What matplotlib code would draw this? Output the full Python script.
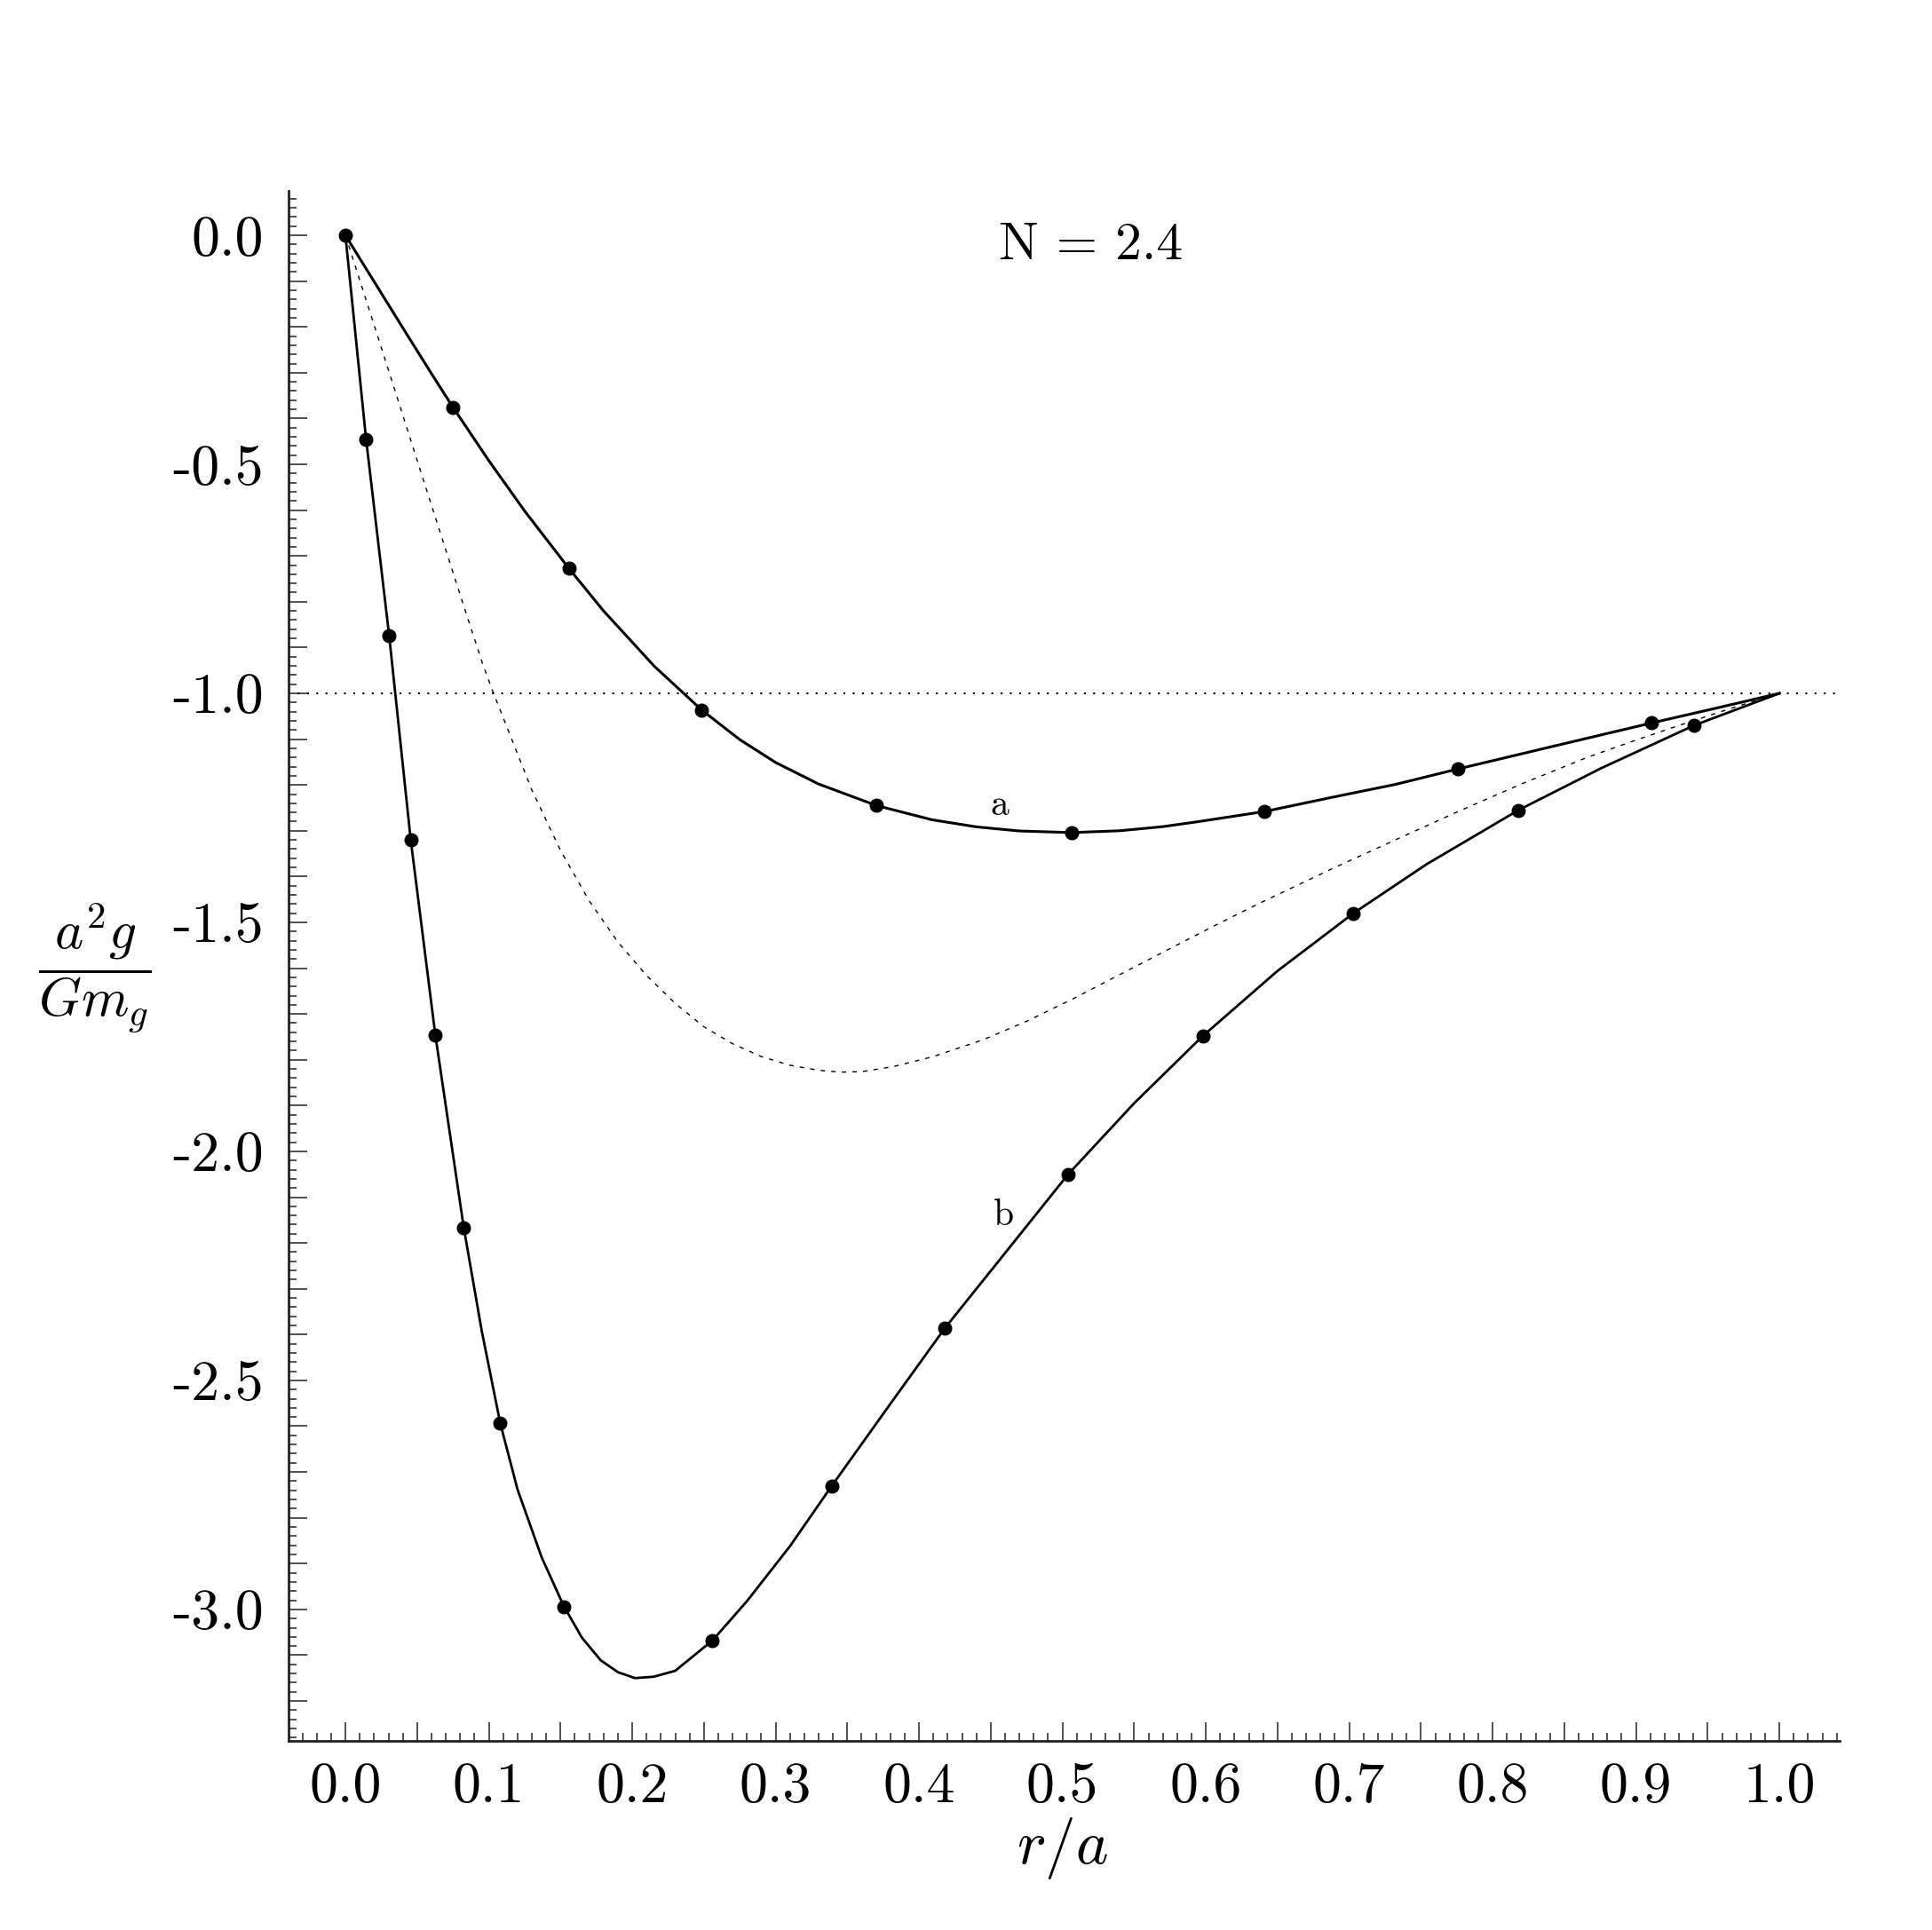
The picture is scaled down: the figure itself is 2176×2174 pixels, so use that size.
import matplotlib
matplotlib.use("Agg")
import matplotlib.pyplot as plt
from matplotlib.ticker import MultipleLocator, FuncFormatter

# values
# curve a (solid, upper)
a_x = [0, 0.02, 0.04, 0.06, 0.0749, 0.10, 0.125, 0.1558, 0.18, 0.2153, 0.2483,
       0.275, 0.30, 0.33, 0.3704, 0.409, 0.44, 0.47, 0.5063, 0.54, 0.57, 0.595,
       0.641, 0.688, 0.732, 0.776, 0.843, 0.911, 0.955, 1.0]
a_y = [0, -0.101, -0.202, -0.302, -0.375, -0.492, -0.602, -0.727, -0.820, -0.9405,
       -1.036, -1.101, -1.151, -1.198, -1.245, -1.276, -1.2915, -1.3005, -1.304,
       -1.300, -1.291, -1.280, -1.258, -1.227, -1.199, -1.165, -1.115, -1.0646,
       -1.033, -1.0]
a_mark_x = [0, 0.0749, 0.1558, 0.2483, 0.3704, 0.5063, 0.641, 0.776, 0.911]
a_mark_y = [0, -0.375, -0.727, -1.036, -1.245, -1.304, -1.258, -1.165, -1.0646]

# curve b (solid, lower)
b_x = [0, 0.0144, 0.0305, 0.0455, 0.0627, 0.0825, 0.095, 0.108, 0.12, 0.1368,
       0.1523, 0.165, 0.178, 0.19, 0.202, 0.215, 0.23, 0.2559, 0.28, 0.31, 0.339,
       0.378, 0.418, 0.46, 0.504, 0.55, 0.5979, 0.65, 0.703, 0.754, 0.818, 0.876,
       0.9407, 1.0]
b_y = [0, -0.445, -0.874, -1.319, -1.746, -2.166, -2.391, -2.594, -2.738, -2.886,
       -2.993, -3.062, -3.111, -3.137, -3.150, -3.147, -3.134, -3.068, -2.982,
       -2.862, -2.731, -2.560, -2.386, -2.222, -2.050, -1.895, -1.748, -1.606,
       -1.480, -1.373, -1.255, -1.163, -1.0697, -1.0]
b_mark_x = [0.0144, 0.0305, 0.0455, 0.0627, 0.0825, 0.108, 0.1523, 0.2559, 0.339,
            0.418, 0.504, 0.5979, 0.703, 0.818, 0.9407]
b_mark_y = [-0.445, -0.874, -1.319, -1.746, -2.166, -2.594, -2.995, -3.068, -2.731,
            -2.386, -2.050, -1.748, -1.480, -1.255, -1.0697]

# dashed curve
d_x = [0, 0.0254, 0.0563, 0.08, 0.0955, 0.1028, 0.13, 0.15, 0.17, 0.19, 0.21, 0.23,
       0.25, 0.27, 0.29, 0.31, 0.33, 0.345, 0.36, 0.382, 0.41, 0.445, 0.475, 0.508,
       0.54, 0.5715, 0.605, 0.635, 0.688, 0.735, 0.776, 0.82, 0.865, 0.90, 0.931,
       0.965, 1.0]
d_y = [0, -0.249, -0.553, -0.785, -0.934, -0.996, -1.211, -1.343, -1.453, -1.543,
       -1.616, -1.677, -1.728, -1.765, -1.793, -1.812, -1.823, -1.827, -1.826,
       -1.815, -1.793, -1.756, -1.716, -1.666, -1.614, -1.563, -1.509, -1.462,
       -1.383, -1.316, -1.258, -1.198, -1.141, -1.102, -1.069, -1.034, -1.0]

plt.rcParams['font.family'] = ['cmr10', 'DejaVu Serif']
plt.rcParams['mathtext.fontset'] = 'cm'
plt.rcParams['axes.unicode_minus'] = False

fig = plt.figure(figsize=(21.76, 21.74), dpi=100)
ax = fig.add_axes([0.1494, 0.0980, 0.9522 - 0.1494, 0.9011 - 0.0980])

ax.axhline(-1.0, color='black', lw=1.5, ls=(0, (1, 4)))
ax.plot(d_x, d_y, color='black', lw=1.0, ls=(0, (3.6, 5)))
ax.plot(a_x, a_y, color='black', lw=2.2, solid_joinstyle='round')
ax.plot(b_x, b_y, color='black', lw=2.0, solid_joinstyle='round')
ax.plot(a_mark_x, a_mark_y, 'o', color='black', ms=10.5)
ax.plot(b_mark_x, b_mark_y, 'o', color='black', ms=10.5)

ax.text(0.456, -1.266, 'a', fontsize=30, ha='center', va='baseline')
ax.text(0.459, -2.161, 'b', fontsize=30, ha='center', va='baseline')
ax.text(0.52, -0.052, 'N = 2.4', fontsize=43, ha='center', va='baseline')

ax.set_xlim(-0.0396, 1.042)
ax.set_ylim(-3.287, 0.097)

for s in ['top', 'right']:
    ax.spines[s].set_visible(False)
for s in ['left', 'bottom']:
    ax.spines[s].set_linewidth(2.0)
    ax.spines[s].set_color('#222222')

ax.xaxis.set_major_locator(MultipleLocator(0.05))
ax.xaxis.set_minor_locator(MultipleLocator(0.01))
ax.yaxis.set_major_locator(MultipleLocator(0.1))
ax.yaxis.set_minor_locator(MultipleLocator(0.02))


def xfmt(v, pos):
    k = round(v * 20)
    if k % 2 == 0 and v > -0.001:
        return '%.1f' % v
    return ''


def yfmt(v, pos):
    k = round(v * 10)
    if k % 5 == 0:
        return '%.1f' % (k / 10.0) if k != 0 else '0.0'
    return ''


ax.xaxis.set_major_formatter(FuncFormatter(xfmt))
ax.yaxis.set_major_formatter(FuncFormatter(yfmt))

ax.tick_params(which='major', direction='in', length=15, width=1.2, color='#333333',
               labelsize=46)
ax.tick_params(which='minor', direction='in', length=6.5, width=1.2, color='#333333')
ax.tick_params(axis='x', which='major', pad=17)
ax.tick_params(axis='y', which='major', pad=20)

fig.text(1196 / 2176, 1 - 2082 / 2174, r'$r/a$', fontsize=50, ha='center', va='center')
fig.text(107 / 2176, 1 - 1090 / 2174, r'$\dfrac{a^2g}{Gm_g}$', fontsize=44,
         ha='center', va='center')

fig.savefig('out.png', dpi=100)
